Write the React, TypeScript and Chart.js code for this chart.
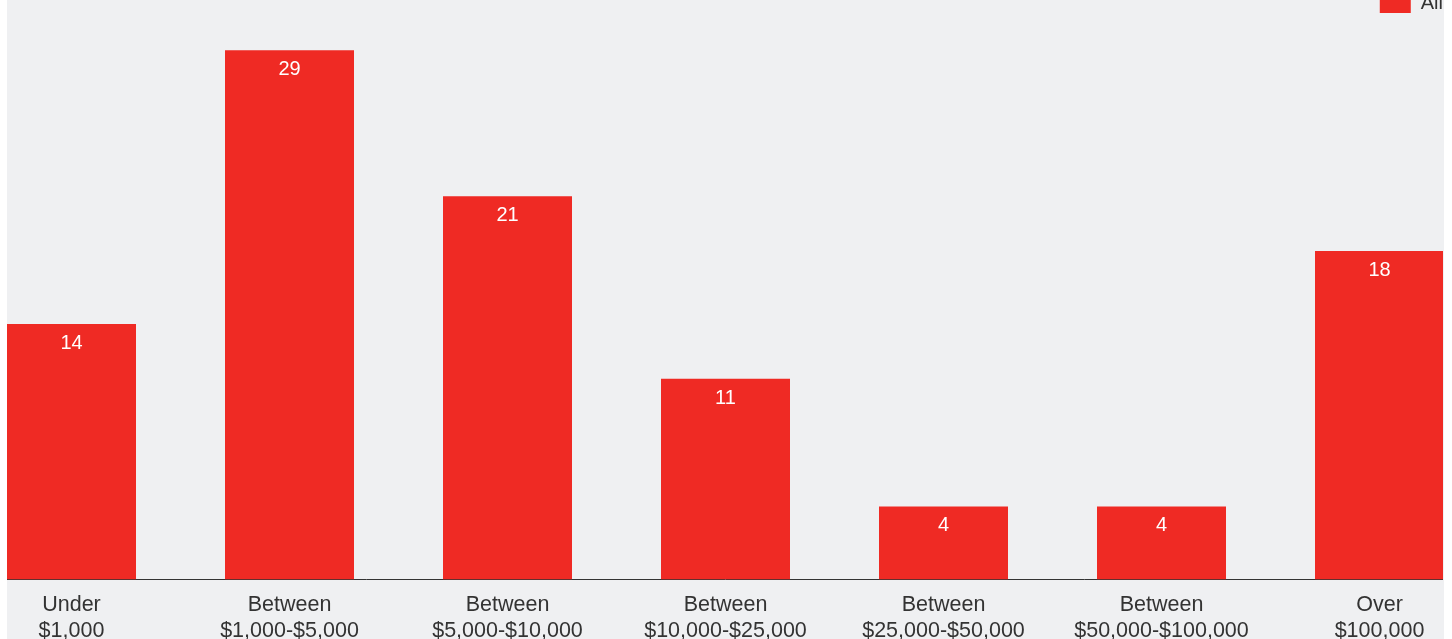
import React, { useEffect, useRef } from "react";
import { Chart, registerables } from "chart.js";

Chart.register(...registerables);

const categories: string[][] = [
  ["Under", "$1,000"],
  ["Between", "$1,000-$5,000"],
  ["Between", "$5,000-$10,000"],
  ["Between", "$10,000-$25,000"],
  ["Between", "$25,000-$50,000"],
  ["Between", "$50,000-$100,000"],
  ["Over", "$100,000"],
];
const seriesName = "All";
const values: number[] = [14, 29, 21, 11, 4, 4, 18];

const RED = "#ef2a24";
const BG = "#eff0f2";
const FONT = "'Liberation Sans', Arial, Helvetica, sans-serif";

const valueLabels = {
  id: "valueLabels",
  afterDatasetsDraw(chart: any) {
    const ctx = chart.ctx;
    const meta = chart.getDatasetMeta(0);
    ctx.save();
    ctx.fillStyle = "#ffffff";
    ctx.font = `20px ${FONT}`;
    ctx.textAlign = "center";
    ctx.textBaseline = "alphabetic";
    meta.data.forEach((bar: any, i: number) => {
      ctx.fillText(String(values[i]), bar.x, bar.y + 25);
    });
    ctx.restore();
  },
};

export default function App() {
  const ref = useRef<HTMLCanvasElement | null>(null);
  useEffect(() => {
    if (!ref.current) return;
    const chart = new Chart(ref.current, {
      type: "bar",
      data: {
        datasets: [
          {
            label: seriesName,
            data: values.map((v, i) => ({ x: i, y: v })),
            backgroundColor: RED,
            borderWidth: 0,
            categoryPercentage: 1,
            barPercentage: 129 / 218,
          },
        ],
      },
      options: {
        responsive: false,
        animation: false,
        layout: { padding: 0 },
        plugins: {
          legend: {
            display: true,
            position: "top",
            align: "end",
            labels: {
              boxWidth: 31,
              boxHeight: 20,
              padding: 0,
              color: "#333333",
              font: { family: FONT, size: 20 },
            },
          },
          tooltip: { enabled: false },
          title: { display: false },
        },
        scales: {
          x: {
            type: "linear",
            offset: false,
            min: -64.5 / 218,
            max: 6 + 63.5 / 218,
            afterBuildTicks: (scale: any) => {
              scale.ticks = categories.map((_, i) => ({ value: i }));
            },
            grid: { display: false, drawTicks: false, tickLength: 0, offset: false },
            border: { display: true, color: "#333333", width: 1 },
            ticks: {
              autoSkip: false,
              maxRotation: 0,
              minRotation: 0,
              padding: 13,
              color: "#333333",
              font: { family: FONT, size: 21.5, lineHeight: 1.2 },
              callback: (v: any) => categories[Math.round(Number(v))] ?? "",
            },
          },
          y: {
            display: false,
            min: 0,
            max: 30.5,
          },
        },
      },
      plugins: [valueLabels],
    });
    return () => chart.destroy();
  }, []);

  return (
    <div
      style={{
        position: "absolute",
        left: 7,
        top: 0,
        width: 1437,
        height: 639,
        overflow: "hidden",
        background: BG,
      }}
    >
      <canvas
        ref={ref}
        width={1436}
        height={664}
        style={{ position: "absolute", left: 0, top: -7, width: 1436, height: 664 }}
      />
    </div>
  );
}
